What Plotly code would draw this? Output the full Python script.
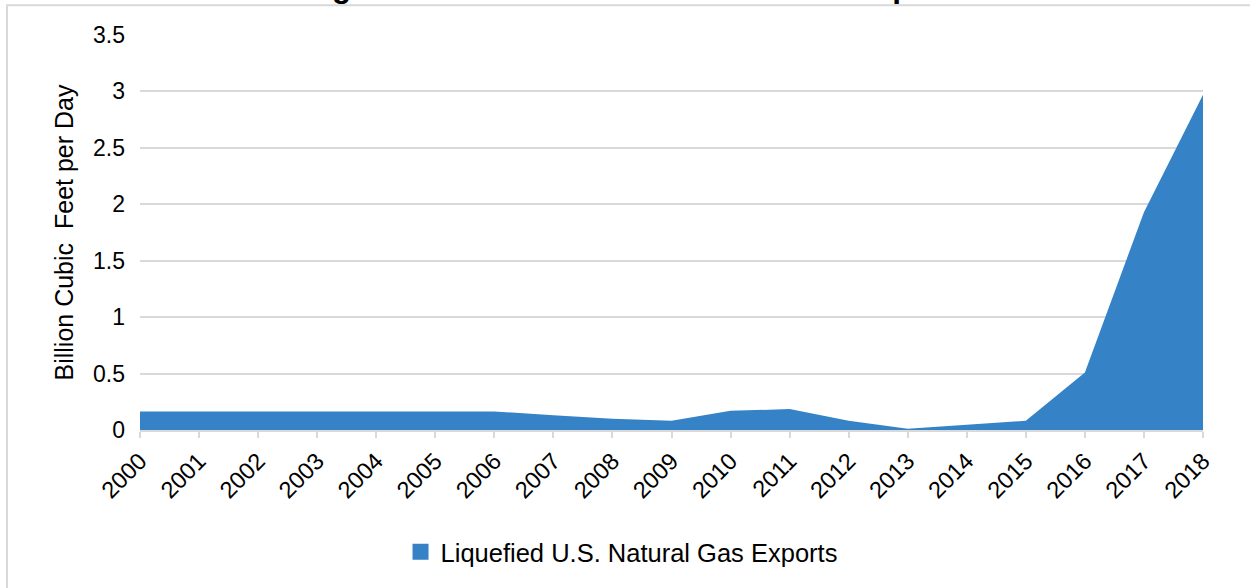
import plotly.graph_objects as go

# LNG exports, billion cubic feet per day
years = list(range(2000, 2019))
lng_exports = [0.165, 0.165, 0.165, 0.165, 0.165, 0.165, 0.165, 0.13, 0.10, 0.082,
               0.17, 0.185, 0.082, 0.01, 0.047, 0.082, 0.51, 1.93, 2.97]
y_ticks = [0, 0.5, 1, 1.5, 2, 2.5, 3, 3.5]
series_name = "Liquefied U.S. Natural Gas Exports"

font = "Liberation Sans, Arial, sans-serif"
blue = "#3682C7"
grid = "#D9D9D9"

fig = go.Figure()
fig.add_trace(go.Scatter(
    x=years, y=lng_exports, mode="none", fill="tozeroy", fillcolor=blue,
    name=series_name, showlegend=False,
))
# legend entry with a square swatch
fig.add_trace(go.Scatter(
    x=[None], y=[None], mode="markers", name=series_name,
    marker=dict(symbol="square", size=18, color=blue),
))

# plot area: left 140, right 1203, top 35, bottom 432
fig.update_layout(
    width=1250, height=588,
    margin=dict(l=140, r=47, t=35, b=156),
    paper_bgcolor="white", plot_bgcolor="white",
    font=dict(family=font, size=23, color="black"),
    showlegend=True,
    legend=dict(orientation="h", x=0.453, xanchor="center", y=-0.25, yanchor="top",
                font=dict(size=25.5), itemwidth=30),
)
fig.update_xaxes(
    range=[2000, 2018], tickvals=years, tickangle=-45,
    showgrid=False, showline=True, linecolor=grid, linewidth=2,
    ticks="outside", tickcolor=grid, ticklen=6, tickwidth=2,
    tickfont=dict(size=23.5), zeroline=False,
)
fig.update_yaxes(
    range=[0, 3.5], tickvals=y_ticks, showgrid=True, gridcolor=grid, gridwidth=1.5,
    zeroline=False, showline=False, tickfont=dict(size=23), ticklabelstandoff=14,
    title=dict(text="Billion Cubic  Feet per Day", font=dict(size=25), standoff=12),
)

# chart frame (top-left corner visible)
fig.add_shape(type="rect", xref="paper", yref="paper",
              x0=-0.1251, x1=1.2, y0=-0.6, y1=1.0756,
              line=dict(color=grid, width=2), layer="below")

# title, mostly cropped off above the frame
fig.add_annotation(text="<b>Figure 1: Historical U.S. Natural Gas Exports</b>",
                   xref="paper", yref="paper", x=0.468, y=1.0756, yanchor="bottom",
                   showarrow=False, font=dict(size=31.5, family=font), yshift=-1)

fig.write_html("out.html", config={"displayModeBar": False},
               post_script="document.body.style.margin='0';")
